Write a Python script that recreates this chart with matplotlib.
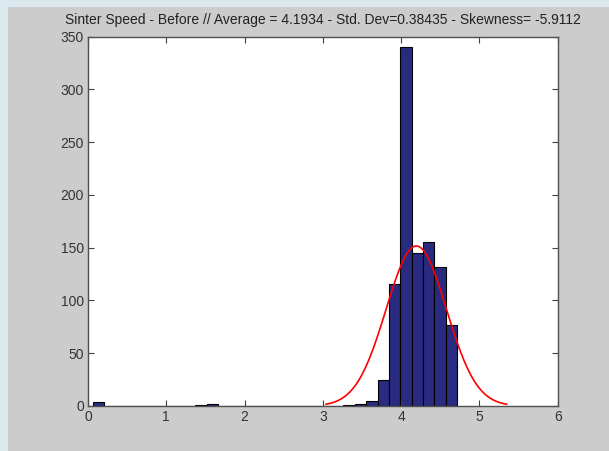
import numpy as np
import matplotlib.pyplot as plt
from matplotlib.patches import Rectangle

# histogram of sinter speed, 32 bins
bin_start = 0.063
bin_width = 0.1454
counts = [4, 0, 0, 0, 0, 0, 0, 0, 0, 1, 2, 0, 0, 0, 0, 0,
          0, 0, 0, 0, 0, 0, 1, 2, 5, 25, 116, 340, 145, 155, 132, 77]

# stats from the title
mean_val = 4.1934
std_val = 0.38435
skew_val = -5.9112

title = ("Sinter Speed - Before // Average = %g - Std. Dev=%g - Skewness= %g"
         % (mean_val, std_val, skew_val))

edges = bin_start + bin_width * np.arange(len(counts) + 1)

plt.rcParams['font.family'] = ['Liberation Sans', 'DejaVu Sans']

fig = plt.figure(figsize=(6.09, 4.51), dpi=100, facecolor='#cccccc')
# light blue frame on the left and top
fig.patches.append(Rectangle((0, 0), 8 / 609, 1, transform=fig.transFigure,
                             facecolor='#dbe9ef', edgecolor='none', zorder=0))
fig.patches.append(Rectangle((0, 1 - 7 / 451), 1, 7 / 451, transform=fig.transFigure,
                             facecolor='#dbe9ef', edgecolor='none', zorder=0))

ax = fig.add_axes([0.1445, 0.0998, 0.7713, 0.8188])
ax.set_facecolor('white')

ax.bar(edges[:-1], counts, width=bin_width, align='edge',
       color='#282b80', edgecolor='black', linewidth=0.8)

# fitted normal curve (mean +/- 3 std), scaled to the histogram
n_total = sum(counts)
xs = np.linspace(mean_val - 3 * std_val, mean_val + 3 * std_val, 100)
ys = n_total * bin_width * np.exp(-0.5 * ((xs - mean_val) / std_val) ** 2) / (std_val * np.sqrt(2 * np.pi))
ax.plot(xs, ys, color='red', linewidth=1.2)

ax.set_xlim(0, 6)
ax.set_ylim(0, 350)
ax.set_xticks(range(0, 7))
ax.set_yticks(range(0, 351, 50))
ax.tick_params(direction='in', length=4, width=0.8, top=True, right=True,
               colors='#404040', labelcolor='#333333', labelsize=10, pad=3)
for s in ax.spines.values():
    s.set_color('#505050')
    s.set_linewidth(1.0)

ax.set_title(title, fontsize=10, color='#222222', pad=9)

fig.savefig('out.png', dpi=100, facecolor=fig.get_facecolor())
